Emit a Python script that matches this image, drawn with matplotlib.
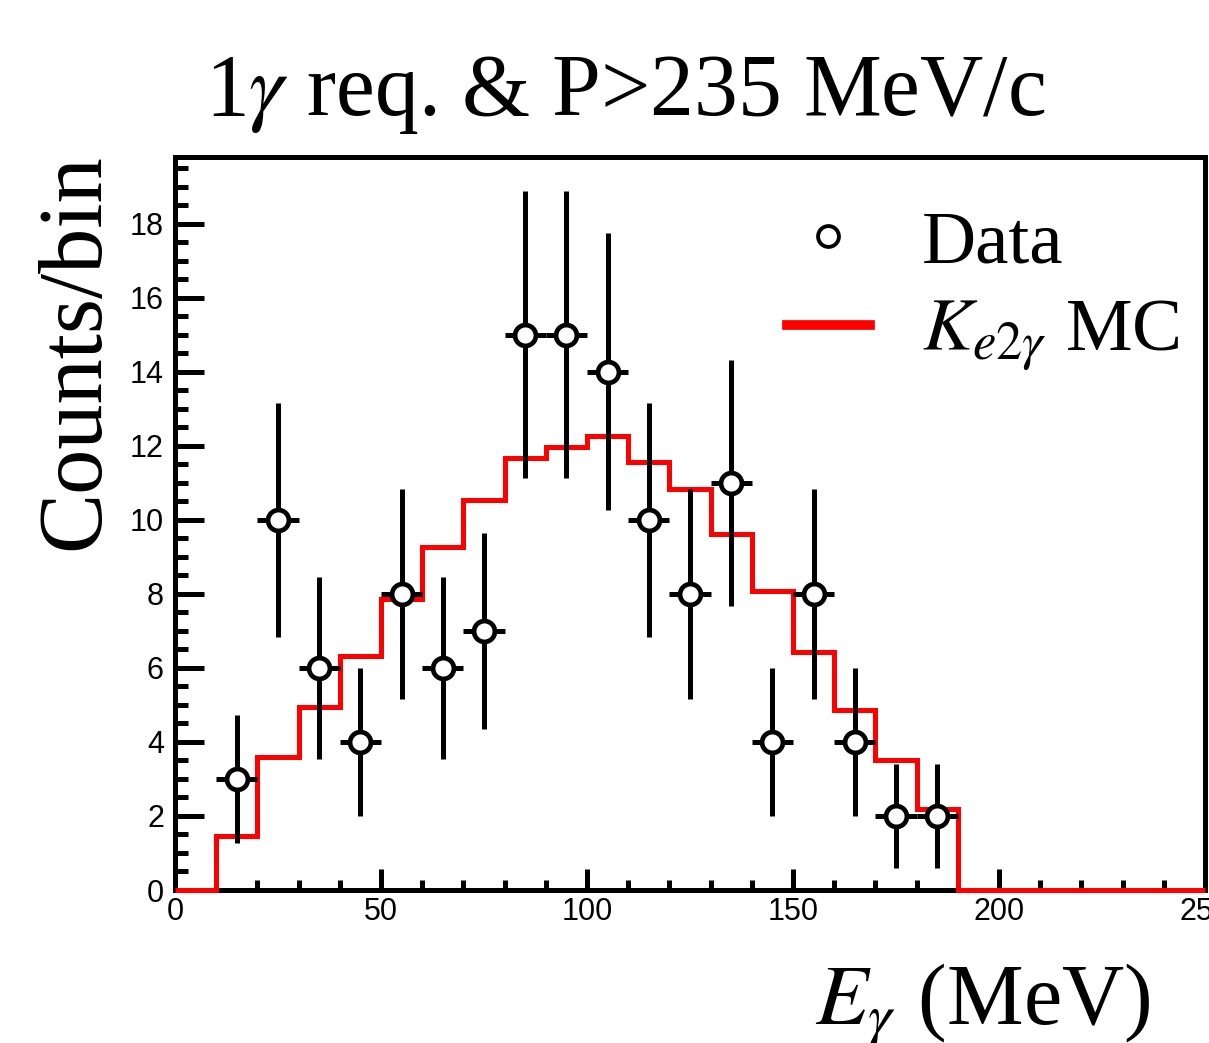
import numpy as np
import matplotlib
matplotlib.use("Agg")
import matplotlib.pyplot as plt
from matplotlib.lines import Line2D

plt.rcParams['mathtext.fontset'] = 'stix'

# photon energy bins (MeV), 10 MeV wide
bin_edges = np.arange(0, 251, 10)
data_centers = np.arange(15, 190, 10)
data_counts = [3, 10, 6, 4, 8, 6, 7, 15, 15, 14, 10, 8, 11, 4, 8, 4, 2, 2]
mc_counts = [0, 1.46, 3.6, 4.95, 6.33, 7.85, 9.26, 10.53, 11.67, 11.97, 12.26,
             11.56, 10.83, 9.61, 8.09, 6.44, 4.85, 3.52, 2.19,
             0, 0, 0, 0, 0, 0]

W, H = 1209, 1043
fig = plt.figure(figsize=(W / 100, H / 100), dpi=100)
ax = fig.add_axes([175 / W, 1 - 890 / H, 1030 / W, 733 / H])

serif = 'Liberation Serif'
sans = 'Liberation Sans'

ax.stairs(mc_counts, bin_edges, color='#ff0000', lw=3.6, zorder=3, clip_on=False)

yerr = np.sqrt(data_counts)
ax.errorbar(data_centers, data_counts, xerr=5, yerr=yerr, fmt='o', color='black',
            mfc='white', mec='black', ms=15, mew=3.4, elinewidth=3.6, capsize=0,
            zorder=4)

ax.set_xlim(0, 250)
ax.set_ylim(0, 19.8)
ax.set_xticks(np.arange(0, 251, 50))
ax.set_xticks(np.arange(0, 251, 10), minor=True)
ax.set_yticks(np.arange(0, 19, 2))
ax.set_yticks(np.arange(0, 19.8, 0.5), minor=True)
ax.tick_params(which='both', direction='in', top=False, right=False, width=3.6,
               labelsize=22)
ax.tick_params(axis='y', which='major', length=21, pad=8)
ax.tick_params(axis='y', which='minor', length=9)
ax.tick_params(axis='x', which='major', length=15, pad=5)
ax.tick_params(axis='x', which='minor', length=7)
for lab in ax.get_xticklabels() + ax.get_yticklabels():
    lab.set_fontfamily(sans)
for sp in ax.spines.values():
    sp.set_linewidth(3.6)

handles = [Line2D([], [], ls='none', marker='o', ms=15, mfc='white', mec='black', mew=2.8),
           Line2D([], [], color='#ff0000', lw=7)]
leg = ax.legend(handles, ['Data', r'$K_{e2\gamma}$ MC'], frameon=False,
                loc='center left', bbox_to_anchor=(787 / W, 1 - 292 / H),
                bbox_transform=fig.transFigure, borderpad=0, borderaxespad=0,
                handlelength=1.1, handletextpad=0.7, labelspacing=0.28,
                prop={'family': serif, 'size': 54})

fig.text(625 / W, 1 - 115 / H, r'1$\gamma$ req. & P>235 MeV/c', ha='center',
         va='baseline', family=serif, fontsize=63)
fig.text(76 / W, 1 - 352 / H, 'Counts/bin', rotation=90, ha='center', va='center',
         family=serif, fontsize=65)
fig.text(1150 / W, 1 - 1025 / H, r'$E_{\gamma}$ (MeV)', ha='right', va='baseline',
         family=serif, fontsize=62)

fig.savefig('out.png', dpi=100)
